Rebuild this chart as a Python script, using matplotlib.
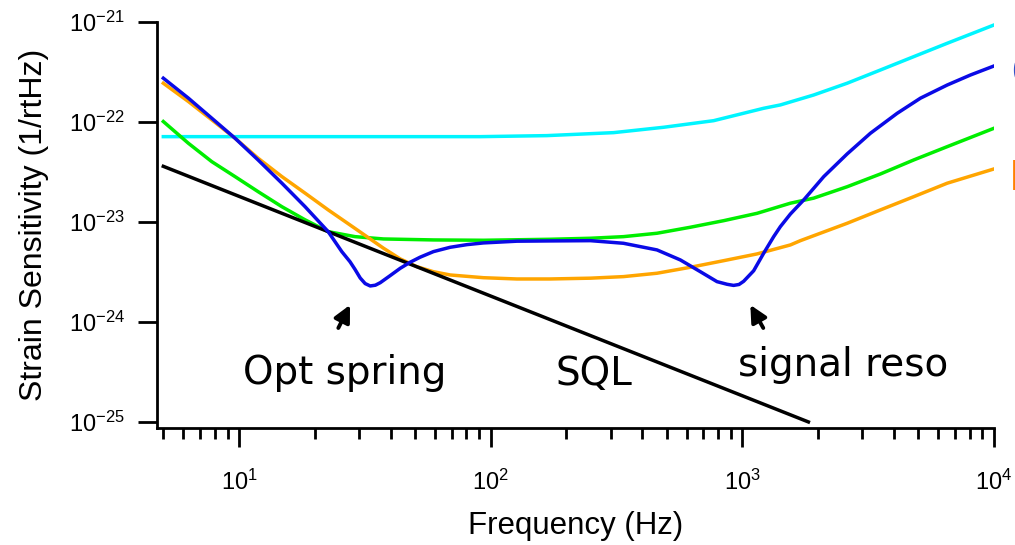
"""应变灵敏度曲线对比图（log-log），复刻参考图。"""

import matplotlib

matplotlib.use("Agg")
import matplotlib.pyplot as plt
from matplotlib.ticker import FixedLocator, LogLocator, NullFormatter

plt.rcParams["font.family"] = ["Liberation Sans", "DejaVu Sans"]
plt.rcParams["mathtext.fontset"] = "custom"
plt.rcParams["mathtext.rm"] = "Liberation Sans"


# 频率 (Hz) / 应变灵敏度 (1/rtHz)
SQL_FREQ = [5, 1830]
SQL_STRAIN = [3.6e-23, 1.0e-25]

CYAN_FREQ = [5, 20, 50, 91, 167, 308, 487, 769, 1215, 1416, 1920, 2609, 3539,
             4799, 6515, 10000]
CYAN_STRAIN = [7.13e-23, 7.13e-23, 7.13e-23, 7.13e-23, 7.30e-23, 7.82e-23, 8.85e-23,
               1.03e-22, 1.37e-22, 1.48e-22, 1.86e-22, 2.44e-22, 3.31e-22,
               4.50e-22, 6.12e-22, 9.33e-22]

BLUE_FREQ = [5, 6.29, 7.79, 9.64, 11.9, 14.8, 18.3, 22.6, 25.6, 27.6, 28.9, 30.3,
             31.7, 33.2, 34.8, 36.4, 39.8, 43.7, 47.9, 52.4, 59.2, 69.0, 80.4, 93.6,
             127, 172, 249, 337, 458, 567, 681, 793, 870, 923, 970, 1012, 1109, 1215,
             1332, 1416, 1552, 1753, 2106, 2609, 3228, 4122, 5104, 6515, 8066, 10000]
BLUE_STRAIN = [2.74e-22, 1.73e-22, 1.09e-22, 6.87e-23, 4.17e-23, 2.44e-23, 1.42e-23,
               8.00e-24, 5.05e-24, 4.00e-24, 3.35e-24, 2.75e-24, 2.42e-24, 2.29e-24,
               2.33e-24, 2.47e-24, 2.90e-24, 3.44e-24, 3.96e-24, 4.44e-24, 5.05e-24,
               5.58e-24, 5.93e-24, 6.17e-24, 6.42e-24, 6.46e-24, 6.50e-24, 6.12e-24,
               5.25e-24, 4.17e-24, 3.18e-24, 2.53e-24, 2.38e-24, 2.32e-24, 2.37e-24,
               2.55e-24, 3.25e-24, 4.86e-24, 7.13e-24, 8.98e-24, 1.20e-23, 1.66e-23,
               2.84e-23, 4.79e-23, 7.71e-23, 1.22e-22, 1.73e-22, 2.34e-22, 2.95e-22,
               3.63e-22]

ORANGE_FREQ = [5, 6.29, 7.79, 9.64, 11.9, 14.8, 18.3, 22.6, 27.6, 32.2, 37.5, 43.7,
               50.9, 59.2, 69.0, 93.6, 127, 172, 249, 337, 458, 621, 843, 1144, 1552,
               1701, 2609, 3539, 4799, 6515, 10000]
ORANGE_STRAIN = [2.44e-22, 1.60e-22, 1.05e-22, 6.87e-23, 4.34e-23, 2.84e-23, 1.94e-23,
                 1.32e-23, 9.33e-24, 7.13e-24, 5.46e-24, 4.27e-24, 3.57e-24, 3.18e-24,
                 2.95e-24, 2.77e-24, 2.69e-24, 2.69e-24, 2.74e-24, 2.84e-24, 3.07e-24,
                 3.52e-24, 4.10e-24, 4.79e-24, 5.89e-24, 6.50e-24, 9.70e-24, 1.32e-23,
                 1.79e-23, 2.44e-23, 3.39e-23]

GREEN_FREQ = [5, 6.29, 7.79, 9.64, 11.9, 14.8, 18.3, 22.6, 28.9, 37.5, 59.2, 93.6,
              172, 249, 337, 458, 621, 843, 1144, 1552, 1920, 2609, 3539, 4799,
              6515, 10000]
GREEN_STRAIN = [1.01e-22, 6.12e-23, 4.01e-23, 2.84e-23, 2.01e-23, 1.42e-23, 1.05e-23,
                8.00e-24, 7.13e-24, 6.76e-24, 6.61e-24, 6.56e-24, 6.71e-24, 6.87e-24,
                7.13e-24, 7.71e-24, 8.85e-24, 1.03e-23, 1.22e-23, 1.54e-23, 1.73e-23,
                2.25e-23, 3.02e-23, 4.17e-23, 5.66e-23, 8.65e-23]

Y_TICKS = [1e-25, 1e-24, 1e-23, 1e-22, 1e-21]
Y_TICK_LABELS = [r"$\mathregular{10^{-25}}$", r"$\mathregular{10^{-24}}$",
                 r"$\mathregular{10^{-23}}$", r"$\mathregular{10^{-22}}$",
                 r"$\mathregular{10^{-21}}$"]
X_TICKS = [10, 100, 1000, 10000]
X_TICK_LABELS = [r"$\mathregular{10^{1}}$", r"$\mathregular{10^{2}}$",
                 r"$\mathregular{10^{3}}$", r"$\mathregular{10^{4}}$"]


def main():
    fig = plt.figure(figsize=(10.15, 5.45), dpi=100)
    ax = fig.add_axes([0.1547, 0.2147, 0.8246, 0.7450])

    lw = 2.5
    ax.plot(CYAN_FREQ, CYAN_STRAIN, color="#00f5ff", linewidth=lw)
    ax.plot(GREEN_FREQ, GREEN_STRAIN, color="#00ee00", linewidth=lw)
    ax.plot(ORANGE_FREQ, ORANGE_STRAIN, color="#ffa500", linewidth=lw)
    ax.plot(SQL_FREQ, SQL_STRAIN, color="black", linewidth=lw)
    ax.plot(BLUE_FREQ, BLUE_STRAIN, color="#0a0ae6", linewidth=lw)

    ax.set_xscale("log")
    ax.set_yscale("log")
    ax.set_xlim(4.72, 1e4)
    ax.set_ylim(8.7e-26, 1e-21)

    # 坐标轴样式：只保留左、下轴，刻度朝外
    for side in ("top", "right"):
        ax.spines[side].set_visible(False)
    for side in ("left", "bottom"):
        ax.spines[side].set_linewidth(2.0)

    ax.yaxis.set_major_locator(FixedLocator(Y_TICKS))
    ax.set_yticklabels(Y_TICK_LABELS)
    ax.yaxis.set_minor_locator(FixedLocator([]))
    ax.xaxis.set_major_locator(FixedLocator(X_TICKS))
    ax.set_xticklabels(X_TICK_LABELS)
    ax.xaxis.set_minor_locator(LogLocator(base=10, subs=range(2, 10), numticks=20))
    ax.xaxis.set_minor_formatter(NullFormatter())

    ax.tick_params(axis="both", which="major", direction="out", length=14,
                   width=2.0, labelsize=17)
    ax.tick_params(axis="y", which="major", pad=9)
    ax.tick_params(axis="x", which="major", pad=16)
    ax.tick_params(axis="x", which="minor", direction="out", length=8, width=2.0)

    ax.set_xlabel("Frequency (Hz)", fontsize=22.5)
    ax.set_ylabel("Strain Sensitivity (1/rtHz)", fontsize=23)
    ax.xaxis.set_label_coords(0.5, -0.205)
    ax.yaxis.set_label_coords(-0.129, 0.5)

    # 注释文字与箭头
    note_font = {"family": ["DejaVu Sans"], "fontsize": 28}
    ax.text(26.4, 2.40e-25, "Opt spring", ha="center", va="baseline", **note_font)
    ax.text(258, 2.34e-25, "SQL", ha="center", va="baseline", **note_font)
    ax.text(2523, 2.88e-25, "signal reso", ha="center", va="baseline", **note_font)

    arrow = dict(arrowstyle="-|>,head_length=1.0,head_width=0.5", color="black",
                 linewidth=2.8, shrinkA=0, shrinkB=0)
    ax.annotate("", xy=(27.6, 1.48e-24), xytext=(24.8, 8.7e-25), arrowprops=arrow)
    ax.annotate("", xy=(1076, 1.48e-24), xytext=(1211, 8.7e-25), arrowprops=arrow)

    # 右侧被裁掉的图例文字残边
    fig.text(0.996, 0.872, "(", color="#3050c8", fontsize=22, ha="left", va="center")
    fig.text(0.996, 0.679, "[", color="#ff8000", fontsize=22, ha="left", va="center")

    fig.savefig("out.png", dpi=100)
    plt.close(fig)


if __name__ == "__main__":
    main()
